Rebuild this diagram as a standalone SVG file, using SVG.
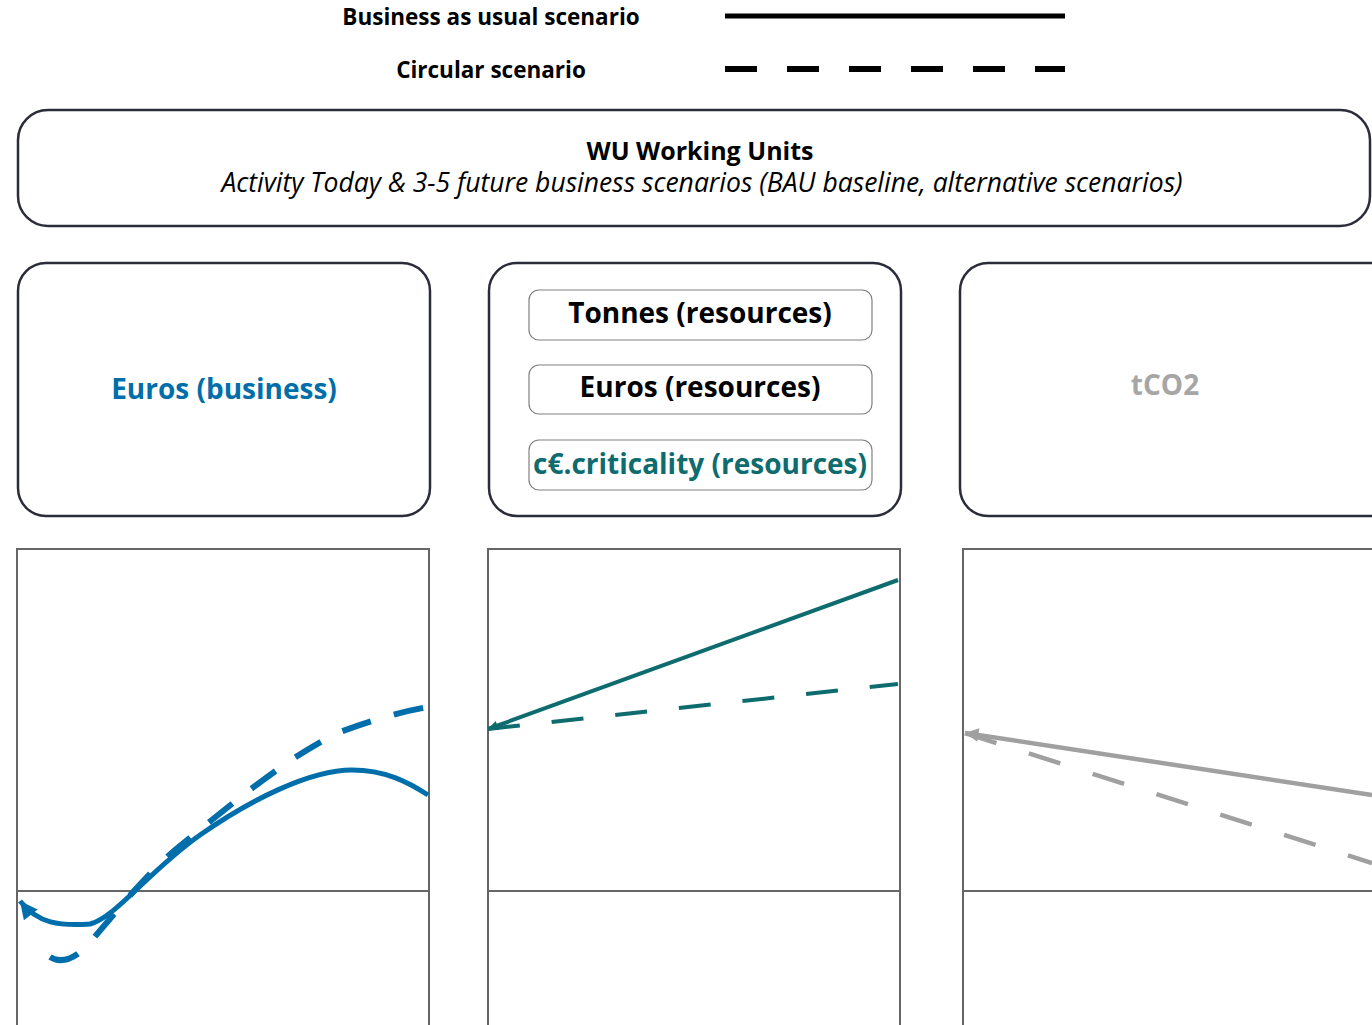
<svg xmlns="http://www.w3.org/2000/svg" width="1372" height="1025" viewBox="0 0 1372 1025">
<style>
text{font-family:"Open Sans","Noto Sans","Liberation Sans",sans-serif;}
.leg{font-size:22.5px;font-weight:bold;fill:#000;text-anchor:middle;}
.box{fill:#fff;stroke:#2a2c3a;stroke-width:2.5;}
.inner{fill:#fff;stroke:#808080;stroke-width:1.2;}
.lbl{font-size:28px;font-weight:bold;text-anchor:middle;}
.chart{fill:none;stroke:#666;stroke-width:2;}
.blue{fill:none;stroke:#006eaa;stroke-width:5;}
.teal{fill:none;stroke:#0e6b6e;stroke-width:4;}
.grey{fill:none;stroke:#a0a0a0;stroke-width:4.5;}
</style>
<defs>
<marker id="ab" viewBox="0 0 10 10" refX="10" refY="5" markerWidth="4.5" markerHeight="3.5" markerUnits="strokeWidth" orient="auto-start-reverse"><path d="M10,5 L0,0 L0,10 z" fill="#006eaa"/></marker>
<marker id="at" viewBox="0 0 10 10" refX="10" refY="5" markerWidth="6" markerHeight="2.5" markerUnits="strokeWidth" orient="auto-start-reverse"><path d="M10,5 L0,0 L0,10 z" fill="#0e6b6e"/></marker>
<marker id="ag" viewBox="0 0 10 10" refX="10" refY="5" markerWidth="7" markerHeight="3" markerUnits="strokeWidth" orient="auto-start-reverse"><path d="M10,5 L0,0 L0,10 z" fill="#a0a0a0"/></marker>
</defs>
<rect width="1372" height="1025" fill="#fff"/>
<g id="legend">
<text class="leg" x="491" y="25">Business as usual scenario</text>
<text class="leg" x="491" y="78">Circular scenario</text>
<line x1="725" y1="16" x2="1065" y2="16" stroke="#000" stroke-width="5"/>
<line x1="725" y1="69" x2="1065" y2="69" stroke="#000" stroke-width="6" stroke-dasharray="32 30"/>
</g>
<g id="wu">
<rect class="box" x="18" y="110" width="1352" height="116" rx="30"/>
<text x="700" y="160" style="font-size:25px;font-weight:bold;text-anchor:middle">WU Working Units</text>
<text x="702" y="192" style="font-size:26.5px;font-style:italic;text-anchor:middle">Activity Today &amp; 3-5 future business scenarios (BAU baseline, alternative scenarios)</text>
</g>
<g id="euros-business">
<rect class="box" x="18" y="263" width="412" height="253" rx="28"/>
<text class="lbl" x="224" y="399" fill="#006eaa">Euros (business)</text>
</g>
<g id="resources">
<rect class="box" x="489" y="263" width="412" height="253" rx="28"/>
<g id="tonnes">
<rect class="inner" x="529" y="290" width="343" height="50" rx="10"/>
<text class="lbl" x="700" y="323" fill="#000">Tonnes (resources)</text>
</g>
<g id="euros-resources">
<rect class="inner" x="529" y="365" width="343" height="49" rx="10"/>
<text class="lbl" x="700" y="397" fill="#000">Euros (resources)</text>
</g>
<g id="criticality">
<rect class="inner" x="529" y="440" width="343" height="50" rx="10"/>
<text class="lbl" x="700" y="474" fill="#0e6b6e">c€.criticality (resources)</text>
</g>
</g>
<g id="tco2">
<rect class="box" x="960" y="263" width="440" height="253" rx="28"/>
<text class="lbl" x="1165" y="395" fill="#a6a6a6">tCO2</text>
</g>
<g id="chart-left">
<rect class="chart" x="17" y="549" width="412" height="500"/>
<line class="chart" x1="17" y1="891" x2="429" y2="891"/>
</g>
<g id="chart-mid">
<rect class="chart" x="488" y="549" width="412" height="500"/>
<line class="chart" x1="488" y1="891" x2="900" y2="891"/>
</g>
<g id="chart-right">
<rect class="chart" x="963" y="549" width="450" height="500"/>
<line class="chart" x1="963" y1="891" x2="1372" y2="891"/>
</g>
<g id="connectors">
<path class="blue" marker-start="url(#ab)" d="M20,901 C38,924 60,926 90,924 C115,918 150,870 200,835 C250,800 310,770 352,770 C385,770 408,782 428,795"/>
<path class="blue" style="stroke-width:6" stroke-dasharray="30 24" d="M50,957 C58,962 70,962 85,948 C110,920 140,880 175,850 C230,805 290,755 340,732 C380,717 410,710 428,707"/>
<path class="teal" marker-start="url(#at)" d="M488,729 L898,580"/>
<path class="teal" stroke-dasharray="32 32" d="M488,729 L898,684"/>
<path class="grey" marker-start="url(#ag)" d="M965,733 L1372,795"/>
<path class="grey" stroke-dasharray="33 34" d="M965,733 L1372,863"/>
</g>
</svg>
